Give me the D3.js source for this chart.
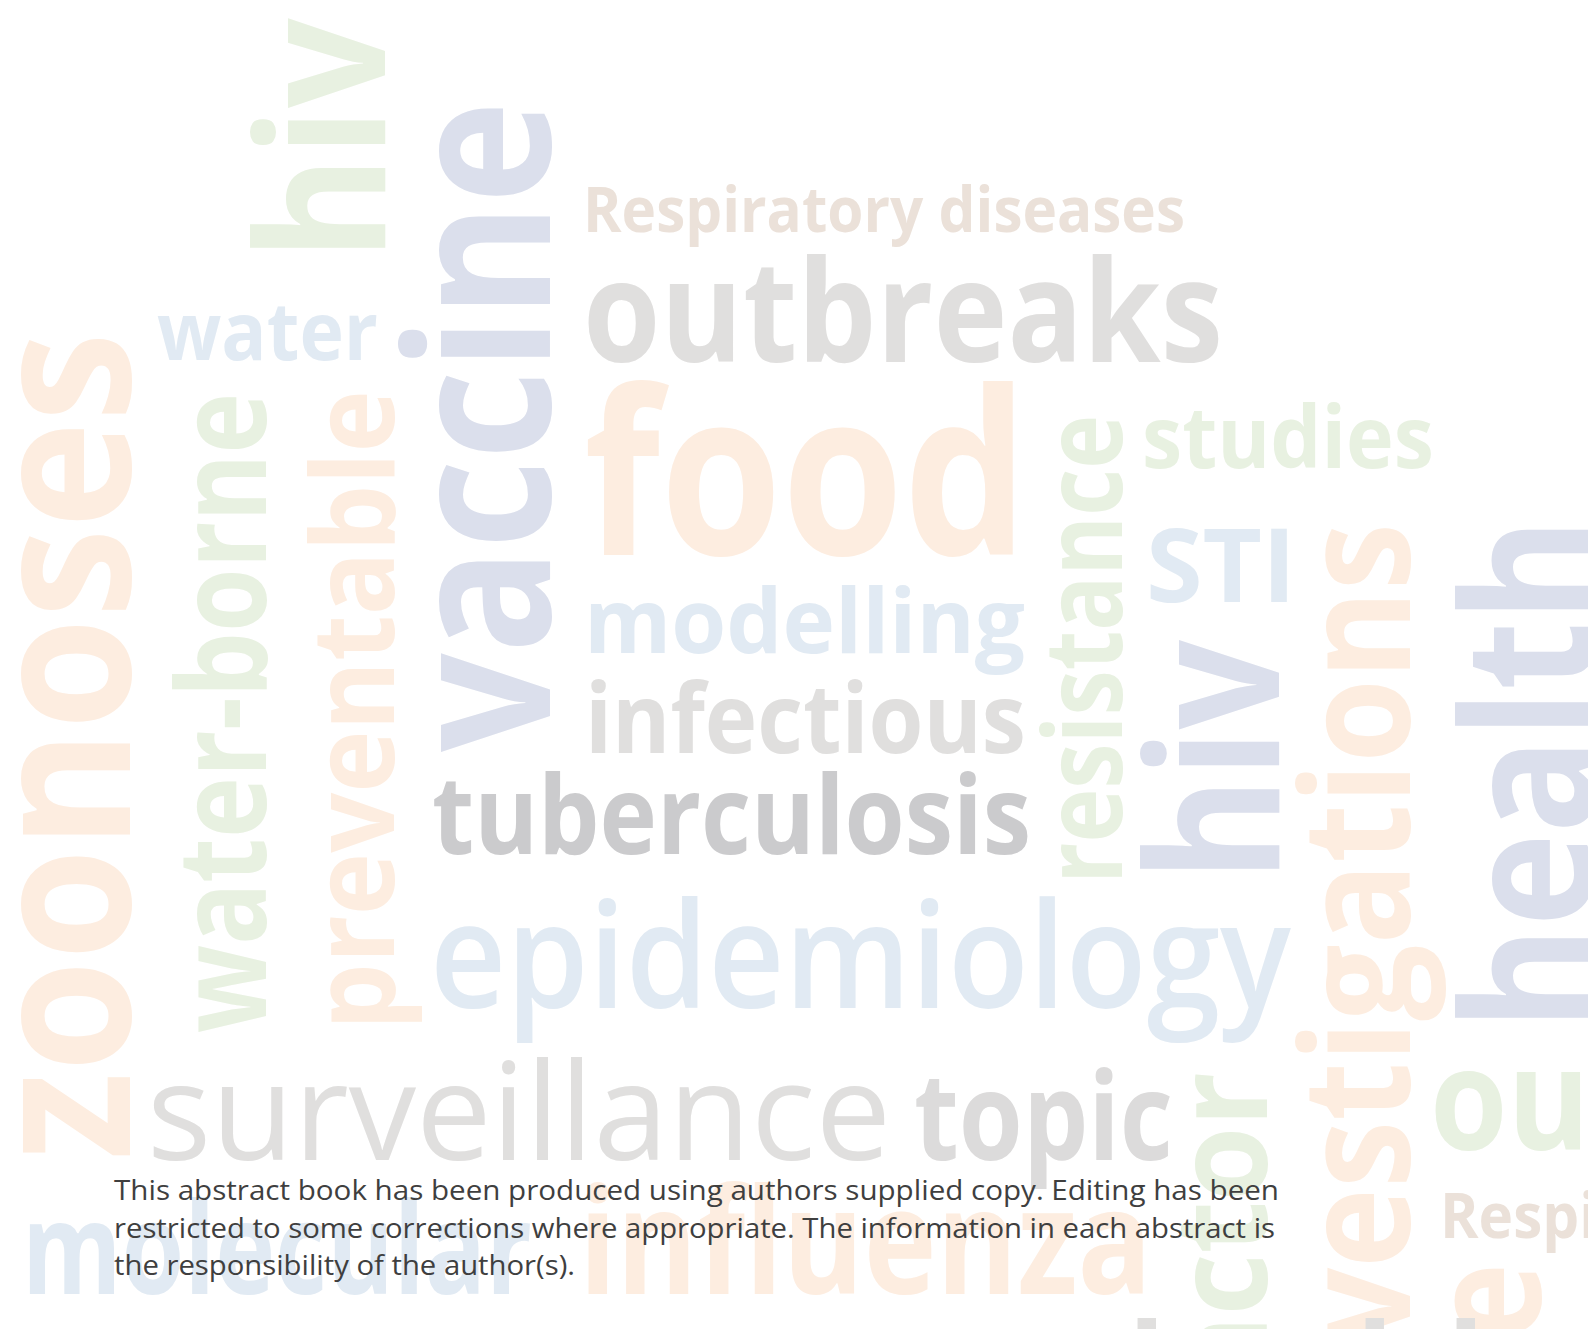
<!DOCTYPE html>
<html>
<head>
<meta charset="utf-8">
<script src="https://cdn.jsdelivr.net/npm/d3@7"></script>
<style>
  body { margin: 0; background: #fff; overflow: hidden; }
  svg { display: block; }
</style>
</head>
<body>
<svg id="cloud" width="1588" height="1329"></svg>
<script>
// words of the cloud, their weight (rendered font size) and colour group
const words = [
  'hiv', 'vaccine', 'Respiratory diseases', 'outbreaks', 'food', 'water',
  'zoonoses', 'water-borne', 'preventable', 'modelling', 'infectious',
  'tuberculosis', 'resistance', 'studies', 'STI', 'hiv', 'investigations',
  'health', 'epidemiology', 'surveillance', 'topic', 'outbreaks',
  'Respiratory diseases', 'factor', 'vaccine', 'influenza', 'molecular', 'health'
];
const weights = [
  177, 200, 63, 142, 228, 81,
  195, 123, 115, 90, 97,
  110, 110, 86, 102, 183, 150,
  180, 146, 136, 122, 142,
  63, 130, 155, 148, 128, 120
];
const groups = [
  'green', 'lavender', 'beige', 'grey', 'orange', 'blue',
  'orange', 'green', 'orange', 'blue', 'grey',
  'dark', 'green', 'green', 'blue', 'lavender', 'orange',
  'lavender', 'blue', 'grey', 'grey2', 'green',
  'beige', 'green', 'orange', 'orange', 'blue', 'grey'
];

// where each word sits: [x, y, angle, span along the baseline]
const placement = [
  [385, 260, -90, 242], [550, 752, -90, 651], [583, 232, 0, 602], [583, 362, 0, 640],
  [584, 555, 0, 444], [157, 360, 0, 221], [130, 1160, -90, 828], [266, 1033, -90, 640],
  [394, 1030, -90, 640], [584, 653, 0, 441], [585, 753, 0, 441], [432, 854, 0, 599],
  [1122, 884, -90, 469], [1142, 468, 0, 292], [1146, 602, 0, 150], [1279, 881, -90, 241],
  [1410, 1475, -90, 952], [1592, 1030, -90, 512], [430, 1008, 0, 861], [147, 1160, 0, 744],
  [914, 1160, 0, 259], [1430, 1150, 0, 640], [1440, 1238, 0, 602], [1267, 1435, -90, 363],
  [1540, 1758, -90, 495], [579, 1294, 0, 573], [22, 1294, 0, 510], [1128, 1410, 0, 400]
];

const noteLines = [
  'This abstract book has been produced using authors supplied copy. Editing has been',
  'restricted to some corrections where appropriate. The information in each abstract is',
  'the responsibility of the author(s).'
];
const noteSpans = [1165, 1161, 461];

const color = d3.scaleOrdinal()
  .domain(['orange', 'green', 'blue', 'lavender', 'grey', 'dark', 'beige', 'grey2'])
  .range(['#fdede0', '#e8f1e1', '#e1eaf3', '#dbdfec', '#e0dfde', '#cbcbcd', '#ebe1d9', '#dcdbdb']);

const fontSize = d3.scaleLinear().domain([0, 100]).range([0, 100]);

const lighter = { 'surveillance': 400, 'epidemiology': 600 };

const data = words.map((w, i) => ({
  text: w,
  weight: weights[i],
  group: groups[i],
  x: placement[i][0],
  y: placement[i][1],
  angle: placement[i][2],
  span: placement[i][3]
}));

const svg = d3.select('#cloud');

svg.append('rect')
  .attr('width', 1588)
  .attr('height', 1329)
  .attr('fill', '#fff');

svg.append('g')
  .selectAll('text')
  .data(data)
  .join('text')
  .attr('transform', d => `translate(${d.x},${d.y}) rotate(${d.angle})`)
  .attr('font-family', "'Open Sans', 'Noto Sans', sans-serif")
  .attr('font-weight', d => lighter[d.text] || 700)
  .attr('font-size', d => fontSize(d.weight))
  .attr('fill', d => color(d.group))
  .attr('textLength', d => d.span)
  .attr('lengthAdjust', 'spacingAndGlyphs')
  .text(d => d.text);

// disclaimer over the cloud
svg.append('g')
  .selectAll('text')
  .data(noteLines)
  .join('text')
  .attr('x', 114)
  .attr('y', (d, i) => 1200 + i * 37.5)
  .attr('font-family', "'Open Sans', 'Noto Sans', sans-serif")
  .attr('font-size', 28)
  .attr('fill', '#3f3f3f')
  .attr('textLength', (d, i) => noteSpans[i])
  .attr('lengthAdjust', 'spacingAndGlyphs')
  .text(d => d);
</script>
</body>
</html>
